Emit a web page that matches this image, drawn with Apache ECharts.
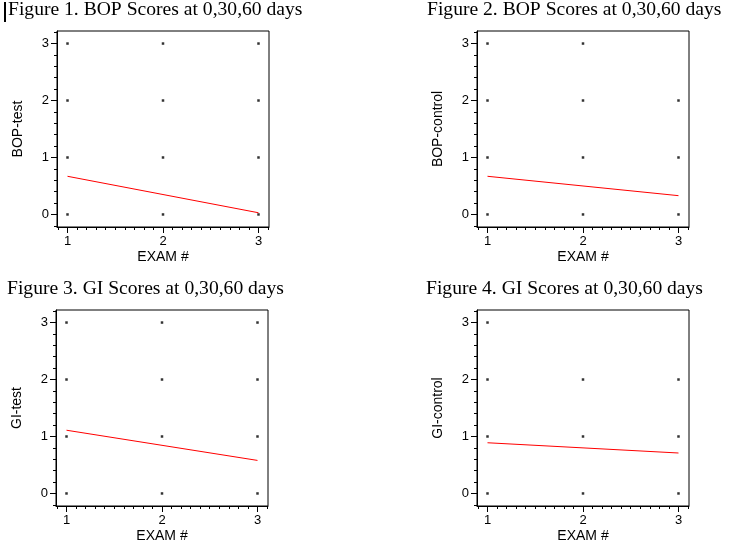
<!DOCTYPE html>
<html>
<head>
<meta charset="utf-8">
<script src="https://cdn.jsdelivr.net/npm/echarts@6/dist/echarts.min.js"></script>
<style>
html,body{margin:0;padding:0;background:#fff;}
#main{width:737px;height:550px;}
</style>
</head>
<body>
<div id="main"></div>
<script>
// ---- data ----
const titles = [
  "Figure 1. BOP Scores at 0,30,60 days",
  "Figure 2. BOP Scores at 0,30,60 days",
  "Figure 3. GI Scores at 0,30,60 days",
  "Figure 4. GI Scores at 0,30,60 days"
];
const yNames = ["BOP-test", "BOP-control", "GI-test", "GI-control"];
const xName = "EXAM #";
const xTickValues = [1, 2, 3];
const yTickValues = [0, 1, 2, 3];
const xMinorValues = [0.9, 1.1, 1.2, 1.3, 1.4, 1.5, 1.6, 1.7, 1.8, 1.9, 2.1, 2.2, 2.3, 2.4, 2.5, 2.6, 2.7, 2.8, 2.9, 3.1];
const yMinorValues = [-0.2, 0.2, 0.4, 0.6, 0.8, 1.2, 1.4, 1.6, 1.8, 2.2, 2.4, 2.6, 2.8, 3.2];
const fitExam = [1, 3];

const bopTestPoints = [[1,0],[1,1],[1,2],[1,3],[2,0],[2,1],[2,2],[2,3],[3,0],[3,1],[3,2],[3,3]];
const bopControlPoints = [[1,0],[1,1],[1,2],[1,3],[2,0],[2,1],[2,2],[2,3],[3,0],[3,1],[3,2]];
const giTestPoints = [[1,0],[1,1],[1,2],[1,3],[2,0],[2,1],[2,2],[2,3],[3,0],[3,1],[3,2],[3,3]];
const giControlPoints = [[1,0],[1,1],[1,2],[1,3],[2,0],[2,1],[2,2],[3,0],[3,1],[3,2]];

const bopTestFit = [0.67, 0.03];
const bopControlFit = [0.67, 0.33];
const giTestFit = [1.11, 0.58];
const giControlFit = [0.89, 0.71];

const panelPoints = [bopTestPoints, bopControlPoints, giTestPoints, giControlPoints];
const panelFits = [bopTestFit, bopControlFit, giTestFit, giControlFit];

// ---- layout ----
const grids = [
  {left: 57, top: 31, width: 212, height: 196},
  {left: 477, top: 31, width: 212, height: 196},
  {left: 56, top: 310, width: 212, height: 196},
  {left: 477, top: 310, width: 212, height: 196}
];
const titlePos = [
  {left: 8, top: 0},
  {left: 427, top: 0},
  {left: 7, top: 279},
  {left: 426, top: 279}
];
const xRange = [0.89, 3.11];
const yRange = [-0.22, 3.22];
const sans = 'Liberation Sans, Arial, sans-serif';

const option = {
  backgroundColor: '#fff',
  animation: false,
  title: titles.map((t, i) => ({
    text: t, left: titlePos[i].left, top: titlePos[i].top, padding: 0,
    textStyle: {fontFamily: 'Liberation Serif, Times New Roman, serif', fontSize: 19.6, fontWeight: 'normal', color: '#000'}
  })),
  grid: grids.map(g => Object.assign({show: true, borderColor: '#000', borderWidth: 1, backgroundColor: 'transparent'}, g)),
  xAxis: [],
  yAxis: [],
  series: [],
  graphic: [{type: 'rect', shape: {x: 4, y: 2, width: 2, height: 20}, style: {fill: '#000'}}]
};

grids.forEach((g, i) => {
  // major x
  option.xAxis.push({
    type: 'value', gridIndex: i, position: 'bottom', min: xRange[0], max: xRange[1],
    name: xName, nameLocation: 'middle', nameGap: 23,
    nameTextStyle: {fontFamily: sans, fontSize: 14, color: '#000'},
    axisLine: {show: true, onZero: false, lineStyle: {color: '#000', width: 1}},
    axisTick: {show: true, inside: false, length: 6, customValues: xTickValues, lineStyle: {color: '#000'}},
    axisLabel: {show: true, customValues: xTickValues, margin: 8, fontFamily: sans, fontSize: 13, color: '#000'},
    splitLine: {show: false}
  });
  // minor x
  option.xAxis.push({
    type: 'value', gridIndex: i, position: 'bottom', offset: 0, min: xRange[0], max: xRange[1],
    axisLine: {show: false, onZero: false},
    axisTick: {show: true, inside: false, length: 3, customValues: xMinorValues, lineStyle: {color: '#000'}},
    axisLabel: {show: false},
    splitLine: {show: false}
  });
  option.yAxis.push({
    type: 'value', gridIndex: i, position: 'left', min: yRange[0], max: yRange[1],
    name: yNames[i], nameLocation: 'middle', nameGap: 32, nameRotate: 90,
    nameTextStyle: {fontFamily: sans, fontSize: 14, color: '#000'},
    axisLine: {show: true, onZero: false, lineStyle: {color: '#000', width: 1}},
    axisTick: {show: true, inside: false, length: 6, customValues: yTickValues, lineStyle: {color: '#000'}},
    axisLabel: {show: true, customValues: yTickValues, margin: 8, fontFamily: sans, fontSize: 13, color: '#000'},
    splitLine: {show: false}
  });
  option.yAxis.push({
    type: 'value', gridIndex: i, position: 'left', offset: 0, min: yRange[0], max: yRange[1],
    axisLine: {show: false, onZero: false},
    axisTick: {show: true, inside: false, length: 3, customValues: yMinorValues, lineStyle: {color: '#000'}},
    axisLabel: {show: false},
    splitLine: {show: false}
  });
  option.series.push({
    type: 'scatter', xAxisIndex: 2 * i, yAxisIndex: 2 * i,
    data: panelPoints[i], symbol: 'rect', symbolSize: 2.5,
    itemStyle: {color: '#000'}, silent: true
  });
  option.series.push({
    type: 'line', xAxisIndex: 2 * i, yAxisIndex: 2 * i,
    data: fitExam.map((x, k) => [x, panelFits[i][k]]),
    showSymbol: false, symbol: 'none',
    lineStyle: {color: '#ff0000', width: 1}, silent: true
  });
});

const chart = echarts.init(document.getElementById('main'), null, {renderer: 'canvas'});
chart.setOption(option);
</script>
</body>
</html>
